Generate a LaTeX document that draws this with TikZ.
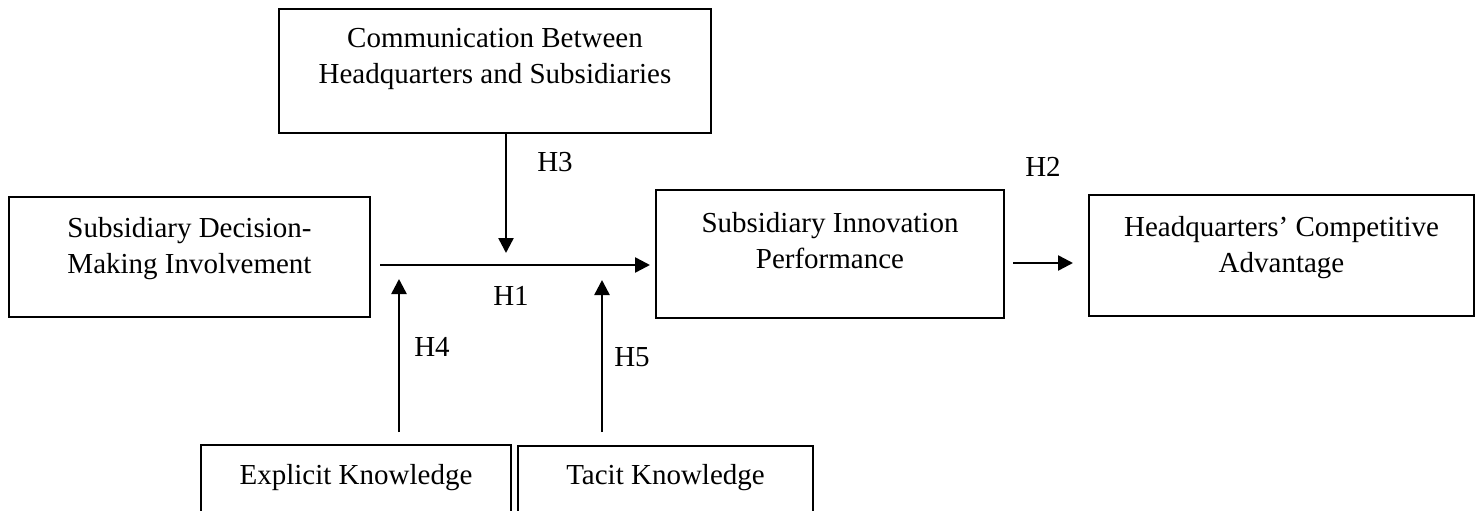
\documentclass[tikz,border=0pt]{standalone}
\usepackage{fontspec}
\setmainfont{Liberation Serif}
\usetikzlibrary{arrows.meta}
\begin{document}
\begin{tikzpicture}[x=1pt,y=-1pt,
  box/.style={draw, line width=2pt, inner sep=0pt},
  txt/.style={font=\fontsize{29}{36}\selectfont, align=center, inner sep=0pt},
  arr/.style={line width=2.5pt, -{Triangle[length=15pt,width=15pt]}}]
\clip (0,0) rectangle (1481,511);
\fill[white] (0,0) rectangle (1481,511);
% boxes
\node[box, minimum width=432pt, minimum height=124pt] (comm) at (495,71) {};
\node[box, minimum width=361pt, minimum height=120pt] (decision) at (189.5,257) {};
\node[box, minimum width=348pt, minimum height=128pt] (innov) at (830,254) {};
\node[box, minimum width=385pt, minimum height=121pt] (hq) at (1281.5,255.5) {};
\node[box, minimum width=310pt, minimum height=115pt] (explicit) at (356,502.5) {};
\node[box, minimum width=295pt, minimum height=114pt] (tacit) at (665.5,503) {};
% box texts
\node[txt] (commtxt) at (495,59) {Communication Between\\Headquarters and Subsidiaries};
\node[txt] (decisiontxt) at (189.5,249) {Subsidiary Decision-\\Making Involvement};
\node[txt] (innovtxt) at (830,241) {Subsidiary Innovation\\Performance};
\node[txt] (hqtxt) at (1281.5,248) {Headquarters’ Competitive\\Advantage};
\node[txt] (explicittxt) at (356,478) {Explicit Knowledge};
\node[txt] (tacittxt) at (665.5,478) {Tacit Knowledge};
% arrow end points
\coordinate (h3tip) at (506,253);
\coordinate (h4tip) at (399,279);
\coordinate (h5tip) at (602,280);
% connectors
\draw[arr, shorten <=9pt, shorten >=5pt] (decision.east |- 0,265) -- (innov.west |- 0,265);
\draw[arr] (comm.south -| h3tip) -- (h3tip);
\draw[arr, shorten <=12pt] (explicit.north -| h4tip) -- (h4tip);
\draw[arr, shorten <=13pt] (tacit.north -| h5tip) -- (h5tip);
\draw[arr, shorten <=8pt, shorten >=15pt] (innov.east |- 0,263) -- (hq.west |- 0,263);
% labels
\node[txt] (lh1) at (511,296) {H1};
\node[txt] (lh2) at (1043,167) {H2};
\node[txt] (lh3) at (555,162) {H3};
\node[txt] (lh4) at (432,347) {H4};
\node[txt] (lh5) at (632,357) {H5};
\end{tikzpicture}
\end{document}
